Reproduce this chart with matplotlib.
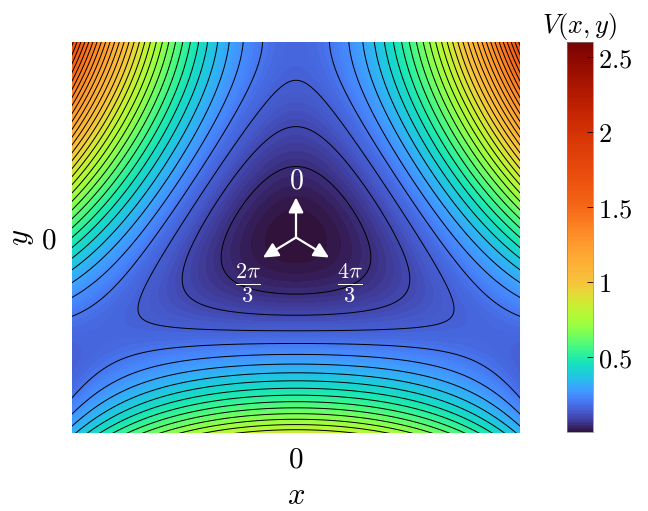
import numpy as np
import matplotlib
matplotlib.use("Agg")
import matplotlib.pyplot as plt
from matplotlib.colors import ListedColormap

plt.rcParams["mathtext.fontset"] = "cm"
plt.rcParams["font.family"] = "serif"
plt.rcParams["font.serif"] = ["DejaVu Serif"]

# grid the potential is sampled on, and the window that is shown
grid_lim = 1.2
view_lim = 1.0
n_grid = 481

# contour line levels and fill resolution
line_step = 0.05
fill_step = 0.01

# turbo, stretched so the low energies take more of the colour range
# (V value -> position along turbo)
cmap_v = [0.0, 0.09, 0.18, 0.25, 0.42, 0.5, 1.0, 1.5, 2.0, 2.592]
cmap_pos = [0.0, 0.07, 0.13, 0.18, 0.30, 0.36, 0.65, 0.78, 0.87, 1.0]

# arrows from the minimum, angles counter-clockwise from +y
arrow_angles = [0.0, 2 * np.pi / 3, 4 * np.pi / 3]
arrow_labels = ["$0$", r"$\frac{2\pi}{3}$", r"$\frac{4\pi}{3}$"]
arrow_label_size = [20, 23, 23]
arrow_len_x = 0.17
arrow_len_y = 0.205
label_pos = [(0.0, 0.29), (-0.215, -0.235), (0.24, -0.235)]

cbar_ticks = [0.5, 1.0, 1.5, 2.0, 2.5]


def henon_heiles(x, y):
    return 0.5 * (x**2 + y**2) + x**2 * y - y**3 / 3.0


xs = np.linspace(-grid_lim, grid_lim, n_grid)
ys = np.linspace(-grid_lim, grid_lim, n_grid)
X, Y = np.meshgrid(xs, ys)
V = henon_heiles(X, Y)
vmax = V.max()

base = plt.get_cmap("turbo")
v_samples = np.linspace(0, vmax, 512)
cmap = ListedColormap(base(np.interp(v_samples, cmap_v, cmap_pos)))

fig = plt.figure(figsize=(6.48, 5.11), dpi=100)
ax = fig.add_axes([72 / 648, 78 / 511, 448 / 648, 391 / 511])
cax = fig.add_axes([567 / 648, 79 / 511, 26 / 648, 390 / 511])

fill_levels = np.arange(0, vmax + fill_step, fill_step)
cf = ax.contourf(X, Y, V, levels=fill_levels, cmap=cmap, vmin=0, vmax=vmax)
line_levels = np.arange(line_step, vmax, line_step)
ax.contour(X, Y, V, levels=line_levels, colors="k", linewidths=0.7)

ax.set_xlim(-view_lim, view_lim)
ax.set_ylim(-view_lim, view_lim)
ax.set_xticks([0])
ax.set_yticks([0])
ax.set_xticklabels(["$0$"], fontsize=21)
ax.set_yticklabels(["$0$"], fontsize=21)
ax.tick_params(axis="x", length=0, pad=9)
ax.tick_params(axis="y", length=0, pad=11)
for s in ax.spines.values():
    s.set_visible(False)
ax.set_xlabel("$x$", fontsize=22, labelpad=5)
ax.set_ylabel("$y$", fontsize=22, labelpad=4)

for ang, lab, fs, (lx, ly) in zip(arrow_angles, arrow_labels, arrow_label_size, label_pos):
    dx = -arrow_len_x * np.sin(ang)
    dy = arrow_len_y * np.cos(ang)
    ax.annotate("", xy=(dx, dy), xytext=(0, 0),
                arrowprops=dict(arrowstyle="-|>,head_length=0.5,head_width=0.25",
                                color="white", lw=1.6,
                                mutation_scale=18, shrinkA=0, shrinkB=0))
    ax.text(lx, ly, lab, color="white", fontsize=fs, ha="center", va="center")

cb = fig.colorbar(cf, cax=cax)
cb.set_ticks(cbar_ticks)
cb.set_ticklabels(["$%g$" % t for t in cbar_ticks])
cb.ax.tick_params(labelsize=19, direction="in", length=4, width=0.6)
cb.outline.set_linewidth(0.5)
cb.outline.set_edgecolor("0.5")
cax.set_title("$V(x,y)$", fontsize=19, pad=6)

fig.savefig("out.png", dpi=100)
